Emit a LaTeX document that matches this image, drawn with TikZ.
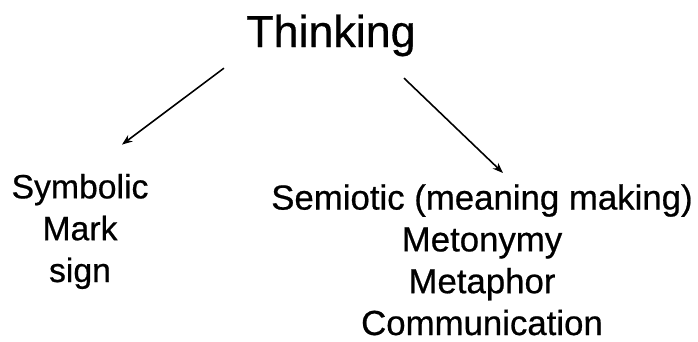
\documentclass[tikz,border=0pt]{standalone}
\usepackage{fontspec}
\setmainfont{Liberation Sans}[FakeBold=0.6]
\usetikzlibrary{arrows.meta}

\begin{document}
\begin{tikzpicture}[x=0.02cm, y=-0.02cm,
    root/.style={inner sep=0pt, anchor=base, font=\fontsize{25.5}{30}\selectfont},
    leaf/.style={inner sep=0pt, anchor=base, align=center, font=\fontsize{19.2}{23.8}\selectfont},
    branch/.style={-{Stealth[length=6pt, width=4.5pt]}, line width=0.9pt}]
    \useasboundingbox (0,0) rectangle (698,342);

    % Root
    \node[root] (thinking) at (331,47) {Thinking};

    % Branches (base = last line)
    \node[leaf] (symbolic) at (80,282) {Symbolic\\Mark\\sign};
    \node[leaf, font=\fontsize{19.8}{23.8}\selectfont] (semiotic) at (482,335) {Semiotic (meaning making)\\Metonymy\\Metaphor\\Communication};

    % Arrows
    \draw[branch] ([xshift=-0.44cm, yshift=-0.23cm]thinking.south west) -- ([xshift=0.84cm, yshift=0.58cm]symbolic.north);
    \draw[branch] ([xshift=-0.24cm, yshift=-0.43cm]thinking.south east) -- ([xshift=0.42cm, yshift=0.22cm]semiotic.north);
\end{tikzpicture}
\end{document}
